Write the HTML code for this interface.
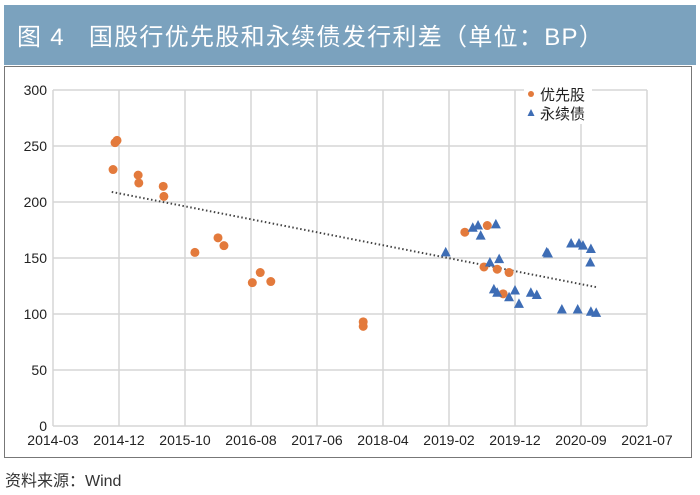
<!DOCTYPE html>
<html><head><meta charset="utf-8"><style>
body{margin:0;width:700px;height:495px;background:#fff;overflow:hidden;font-family:"Liberation Sans","Noto Sans CJK SC",sans-serif}
</style></head><body>
<div style="position:absolute;left:4px;top:5px;width:692px;height:60px;background:#7ba2be"></div>
<div style="position:absolute;left:17px;top:17px;color:#fff;font-size:24px;letter-spacing:1.3px;font-family:'Liberation Sans','Noto Sans CJK SC',sans-serif;white-space:pre">图 4   国股行优先股和永续债发行利差（单位：BP）</div>
<div style="position:absolute;left:4px;top:66px;width:688px;height:392px;border:1px solid #777;box-sizing:border-box"></div>
<svg id="c" width="700" height="495" style="position:absolute;left:0;top:0"></svg>
<div style="position:absolute;left:5px;top:467px;font-size:16px;color:#333">资料来源：Wind</div>
<script>
const xTicks=["2014-03","2014-12","2015-10","2016-08","2017-06","2018-04","2019-02","2019-12","2020-09","2021-07"];
const yTicks=[0,50,100,150,200,250,300];
const prefX=[0.91,0.94,0.97,1.29,1.30,1.67,1.68,2.15,2.50,2.59,3.02,3.14,3.30,4.70,4.70,6.24,6.58,6.53,6.73,6.91,6.82];
const prefY=[229,253,255,224,217,214,205,155,168,161,128,137,129,93,89,173,179,142,140,137,118];
const perpX=[5.95,6.36,6.44,6.48,6.71,6.62,6.76,6.68,6.73,7.00,6.91,7.06,7.24,7.33,7.48,7.50,7.85,7.97,8.03,8.15,8.14,7.71,7.95,8.15,8.23];
const perpY=[155,177,179,170,180,146,149,122,119,121,115,109,119,117,155,154,163,163,161,158,146,104,104,102,101];
const trendX=[0.89,8.23];
const trendY=[209,124];
const NS="http://www.w3.org/2000/svg",svg=document.getElementById('c');
const X0=53,XS=66,Y0=426,YK=(426-90)/300;
const sx=v=>X0+v*XS, sy=v=>Y0-v*YK;
function mk(t,a){const e=document.createElementNS(NS,t);for(const k in a)e.setAttribute(k,a[k]);svg.appendChild(e);return e;}
yTicks.forEach(v=>{
 const l=mk('line',{x1:X0,x2:sx(9),y1:sy(v),y2:sy(v),stroke:'#d6d6d6','stroke-width':1.5});
 
 
 const t=mk('text',{x:X0-6,y:sy(v)+5,'text-anchor':'end','font-size':14,fill:'#222'});
 t.textContent=v;
 
 
});
xTicks.forEach((s,i)=>{
 const l=mk('line',{x1:sx(i),x2:sx(i),y1:sy(0),y2:sy(300),stroke:'#d6d6d6','stroke-width':1.5});
 
 
 const t=mk('text',{x:sx(i),y:445,'text-anchor':'middle','font-size':14,fill:'#222'});
 t.textContent=s;
 
 
});
const tl=mk('line',{x1:sx(trendX[0]),y1:sy(trendY[0]),x2:sx(trendX[1]),y2:sy(trendY[1]),stroke:'#444','stroke-width':2,'stroke-dasharray':'1.5 2.5'});


prefX.forEach((x,i)=>{
 const c=mk('circle',{cx:sx(x),cy:sy(prefY[i]),r:4.5,fill:'#e37a3c'});
 
 
});
perpX.forEach((x,i)=>{
 const px=sx(x),py=sy(perpY[i]);
 const p=mk('polygon',{points:`${px},${py-5.5} ${px-5},${py+4} ${px+5},${py+4}`,fill:'#3e6db5'});
 
 
});
const lg=mk('rect',{x:524,y:84,width:68,height:40,fill:'#fff'});


const lc=mk('circle',{cx:531,cy:94,r:3,fill:'#e37a3c'});


const lt=mk('polygon',{points:'531,109 527.5,116 534.5,116',fill:'#3e6db5'});


const t1=mk('text',{x:540,y:100,'font-size':15,fill:'#222'});t1.textContent='优先股';


const t2=mk('text',{x:540,y:119,'font-size':15,fill:'#222'});t2.textContent='永续债';


</script>
</body></html>
